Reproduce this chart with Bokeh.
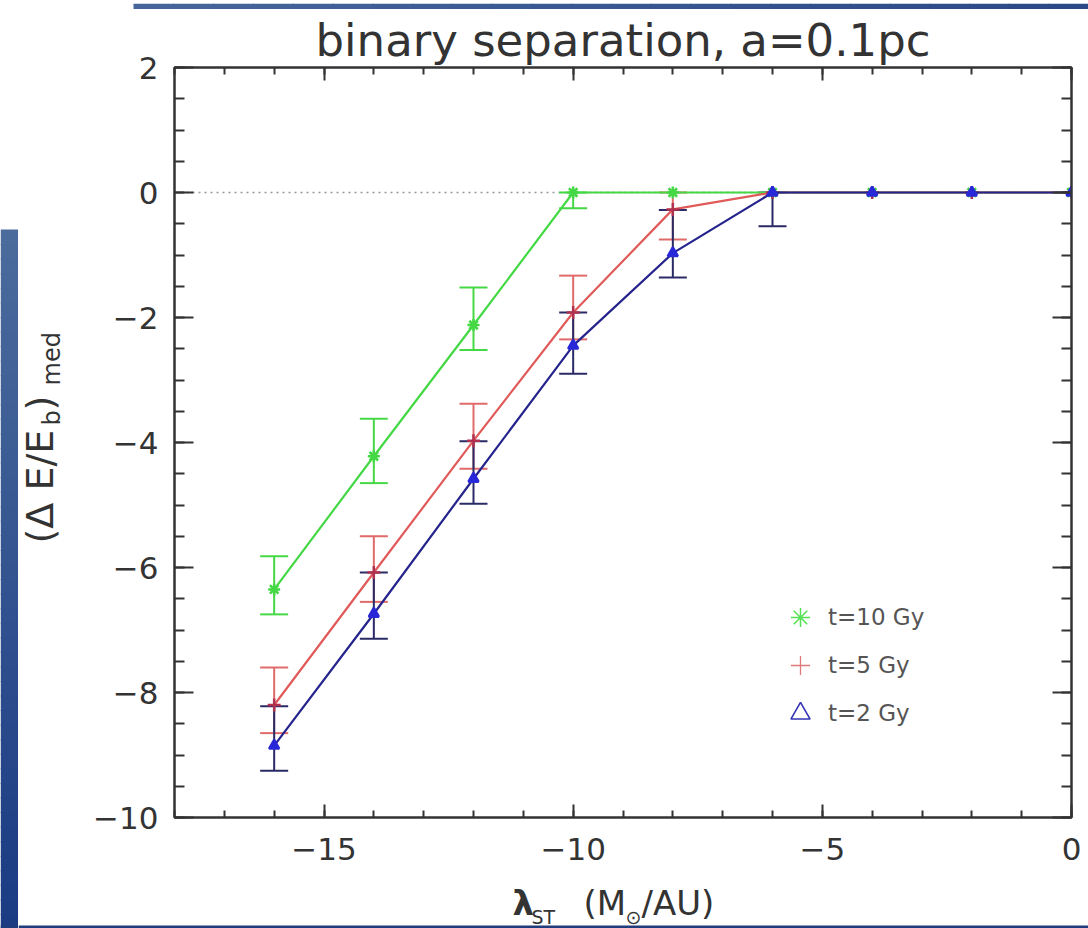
import math
from bokeh.plotting import figure
from bokeh.layouts import column, row
from bokeh.models import (Range1d, LinearAxis, FixedTicker, Whisker, TeeHead, ColumnDataSource,
                          Label, Span, Legend, LegendItem, BoxAnnotation, Title)
from bokeh.embed import file_html
from bokeh.resources import INLINE

# ---------------- data ----------------
lam = [-16, -14, -12, -10, -8, -6, -4, -2, 0]
de_10 = [-6.35, -4.22, -2.12, 0.0, 0.0, 0.0, 0.0, 0.0, 0.0]
de_5 = [-8.20, -6.08, -3.97, -1.92, -0.27, 0.0, 0.0, 0.0, 0.0]
de_2 = [-8.85, -6.74, -4.58, -2.45, -0.97, 0.0, 0.0, 0.0, 0.0]

hi_10 = [-5.82, -3.62, -1.52, 0.0, None, None, None, None, None]
lo_10 = [-6.75, -4.65, -2.52, -0.25, None, None, None, None, None]
hi_5 = [-7.60, -5.50, -3.38, -1.33, 0.0, None, None, None, None]
lo_5 = [-8.65, -6.55, -4.42, -2.35, -0.75, None, None, None, None]
hi_2 = [-8.22, -6.08, -3.98, -1.92, -0.28, 0.0, None, None, None]
lo_2 = [-9.25, -7.14, -4.98, -2.90, -1.36, -0.54, None, None, None]

series_names = ["t=10 Gy", "t=5 Gy", "t=2 Gy"]
title_text = "binary separation, a=0.1pc"
x_major = [-15, -10, -5, 0]
x_minor = list(range(-18, 1))
x_labels = {-15: "\u221215", -10: "\u221210", -5: "\u22125", 0: "0"}
y_major = [2, 0, -2, -4, -6, -8, -10]
y_minor = [v / 2 for v in range(-20, 5)]
y_labels = {2: "2", 0: "0", -2: "\u22122", -4: "\u22124", -6: "\u22126", -8: "\u22128", -10: "\u221210"}

# ---------------- page geometry ----------------
W, H = 1088, 928
FL, FR, FT, FB = 174, 1071, 67, 817   # plot frame on the page
TOP_Y = 9                              # height of the decorative top bar strip
BOT_Y = 880                            # x-axis title strip starts here
BAR_W, LEFT_W = 18, 80
XMIN, XMAX, YMIN, YMAX = -18, 0, -10, 2
MID_H = BOT_Y - TOP_Y

FONT = "DejaVu Sans"
INK = "#333333"
BAR_TOP, BAR_BOT = "#4b6b9d", "#1b3b83"

def strip(x0, x1, y0, y1, top_border=0, bottom_border=0):
    """A figure whose frame maps page pixels directly (y grows downward)."""
    f = figure(width=x1 - x0, height=y1 - y0 + top_border + bottom_border, output_backend="svg",
               toolbar_location=None, x_range=Range1d(x0, x1), y_range=Range1d(y1, y0),
               x_axis_type=None, y_axis_type=None, min_border=0,
               min_border_top=top_border, min_border_bottom=bottom_border,
               background_fill_color="white", border_fill_color="white")
    f.outline_line_color = None
    f.grid.visible = False
    return f

def lab(f, x, y, text, size, angle=0.0, align="left", style="normal", color=INK):
    # (x, y) is the baseline start; shift to the text's middle line
    off = 0.35 * size
    if angle:
        x = x - off
    else:
        y = y - off
    f.add_layout(Label(x=x, y=y, text=text, angle=angle, text_align=align,
                       text_baseline="middle", text_font=FONT,
                       text_font_size=f"{size}px", text_font_style=style, text_color=color))

def mix(c1, c2, t):
    a = [int(c1[i:i + 2], 16) for i in (1, 3, 5)]
    b = [int(c2[i:i + 2], 16) for i in (1, 3, 5)]
    return "#%02x%02x%02x" % tuple(round(a[k] + (b[k] - a[k]) * t) for k in range(3))

def box(f, l, r, t, b, c):
    f.add_layout(BoxAnnotation(left=l, right=r, top=t, bottom=b, fill_color=c,
                               fill_alpha=1.0, line_alpha=0.0))

# ---------------- left decorative bar (full page height) ----------------
bar = strip(0, BAR_W, 0, H)
n = 48
for i in range(n):
    a = 229 + (H - 229) * i / n
    b = 229 + (H - 229) * (i + 1) / n + 1
    box(bar, 0, BAR_W, a, min(b, H), mix(BAR_TOP, BAR_BOT, i / (n - 1)))
box(bar, 0, BAR_W, H - 3, H, "#1f3c7c")

# ---------------- top strip: decorative bar ----------------
top = strip(BAR_W, W, 0, TOP_Y)
n = 24
for i in range(n):
    x0 = 133 + (W - 133) * i / n
    x1 = 133 + (W - 133) * (i + 1) / n + 1
    box(top, x0, x1, 0, TOP_Y, mix("#46669b", "#2b4987", i / (n - 1)))

# ---------------- y-axis title strip: (Δ E/E_b)_med ----------------
left = strip(BAR_W, LEFT_W, FT, FB, top_border=FT - TOP_Y, bottom_border=BOT_Y - FB)
R = math.pi / 2
lab(left, 53, 543, "(\u0394 E/E", 38, angle=R)
lab(left, 60, 425, "b", 24, angle=R)
lab(left, 53, 410, ")", 38, angle=R)
lab(left, 60, 385, "med", 24, angle=R)

# ---------------- bottom strip: x-axis title λ_ST (M_⊙/AU) ----------------
bot = strip(BAR_W, W, BOT_Y, H)
box(bot, BAR_W, W, H - 3, H, "#1f3c7c")
lab(bot, 512, 914, "\u03bb", 34, style="bold")
lab(bot, 531, 923, "ST", 19)
lab(bot, 583, 914, "(M", 34)
lab(bot, 625, 923, "\u2299", 19)
lab(bot, 641, 914, "/AU)", 34)

# ---------------- main plot ----------------
p = figure(width=W - LEFT_W, height=MID_H, output_backend="svg", toolbar_location=None,
           x_range=Range1d(XMIN, XMAX), y_range=Range1d(YMIN, YMAX),
           min_border_left=FL - LEFT_W, min_border_right=W - FR,
           min_border_top=FT - TOP_Y, min_border_bottom=BOT_Y - FB,
           background_fill_color="white", border_fill_color="white")
p.grid.visible = False
p.outline_line_color = INK
p.outline_line_width = 2
p.title = Title(text=title_text, align="center", text_font=FONT, text_font_size="45px",
                text_font_style="normal", text_color=INK, standoff=2)

def style_axis(ax, major_in, minor_in):
    ax.axis_line_color = INK
    ax.axis_line_width = 2
    ax.major_tick_in = major_in
    ax.major_tick_out = 0
    ax.minor_tick_in = minor_in
    ax.minor_tick_out = 0
    ax.major_tick_line_color = INK
    ax.major_tick_line_width = 2
    ax.minor_tick_line_color = INK
    ax.minor_tick_line_width = 2
    ax.major_label_text_font = FONT
    ax.major_label_text_font_size = "31px"
    ax.major_label_text_color = INK

bx = p.xaxis[0]
bx.ticker = FixedTicker(ticks=x_major, minor_ticks=x_minor)
bx.major_label_overrides = x_labels
style_axis(bx, 13, 7)
bx.major_label_standoff = 20

ly = p.yaxis[0]
ly.ticker = FixedTicker(ticks=y_major, minor_ticks=y_minor)
ly.major_label_overrides = y_labels
style_axis(ly, 19, 10)
ly.major_label_standoff = 16

tx = LinearAxis(ticker=FixedTicker(ticks=x_major, minor_ticks=x_minor),
                major_label_overrides={v: "" for v in x_major})
style_axis(tx, 13, 7)
tx.major_label_standoff = 0
p.add_layout(tx, "above")
ry = LinearAxis(ticker=FixedTicker(ticks=y_major, minor_ticks=y_minor),
                major_label_overrides={v: "" for v in y_major})
style_axis(ry, 19, 10)
ry.major_label_standoff = 0
p.add_layout(ry, "right")

p.add_layout(Span(location=0, dimension="width", line_color="#999999",
                  line_dash="2 4", line_width=1.6, level="underlay"))

specs = [
    (de_10, hi_10, lo_10, "#45d845", "#45d845", "#45d845", "asterisk", 12),
    (de_5, hi_5, lo_5, "#e05a5a", "#e06a6a", "#b03050", "cross", 13),
    (de_2, hi_2, lo_2, "#24248c", "#2a2a66", "#2828d8", "triangle", 10),
]
legend_markers = [("asterisk", "#55e055", 1.5), ("cross", "#e07a7a", 1.3), ("triangle", "#3434b4", 1.6)]

items = []
for (ys, his, los, lcol, ecol, mcol, mk, ms), name, (lmk, lcolr, llw) in zip(specs, series_names, legend_markers):
    xs_e = [x for x, h in zip(lam, his) if h is not None]
    hs = [h for h in his if h is not None]
    ls = [l for l in los if l is not None]
    src = ColumnDataSource(dict(x=xs_e, hi=hs, lo=ls))
    w = Whisker(source=src, base="x", upper="hi", lower="lo", dimension="height",
                line_color=ecol, line_width=2,
                upper_head=TeeHead(size=28, line_color=ecol, line_width=2),
                lower_head=TeeHead(size=28, line_color=ecol, line_width=2))
    p.add_layout(w)
    p.line(lam, ys, line_color=lcol, line_width=2.2)
    lr = p.scatter(lam, ys, marker=lmk, size=ms - 2, line_color=lcolr, fill_alpha=0, line_width=llw)
    p.scatter(lam, ys, marker=mk, size=ms, line_color=mcol, fill_color=mcol, line_width=2.5)
    items.append(LegendItem(label=name, renderers=[lr]))

legend = Legend(items=items, location=(776 - FL, FB - 737), orientation="vertical",
                glyph_width=48, glyph_height=48, spacing=0, padding=0, margin=0,
                label_standoff=4, label_text_font=FONT, label_text_font_size="23px",
                label_text_color="#555555", background_fill_alpha=0,
                border_line_alpha=0, label_height=48)
p.add_layout(legend, "center")

layout = row(bar, column(top, row(left, p, spacing=0), bot, spacing=0), spacing=0)
open("out.html", "w").write(file_html(layout, INLINE))
